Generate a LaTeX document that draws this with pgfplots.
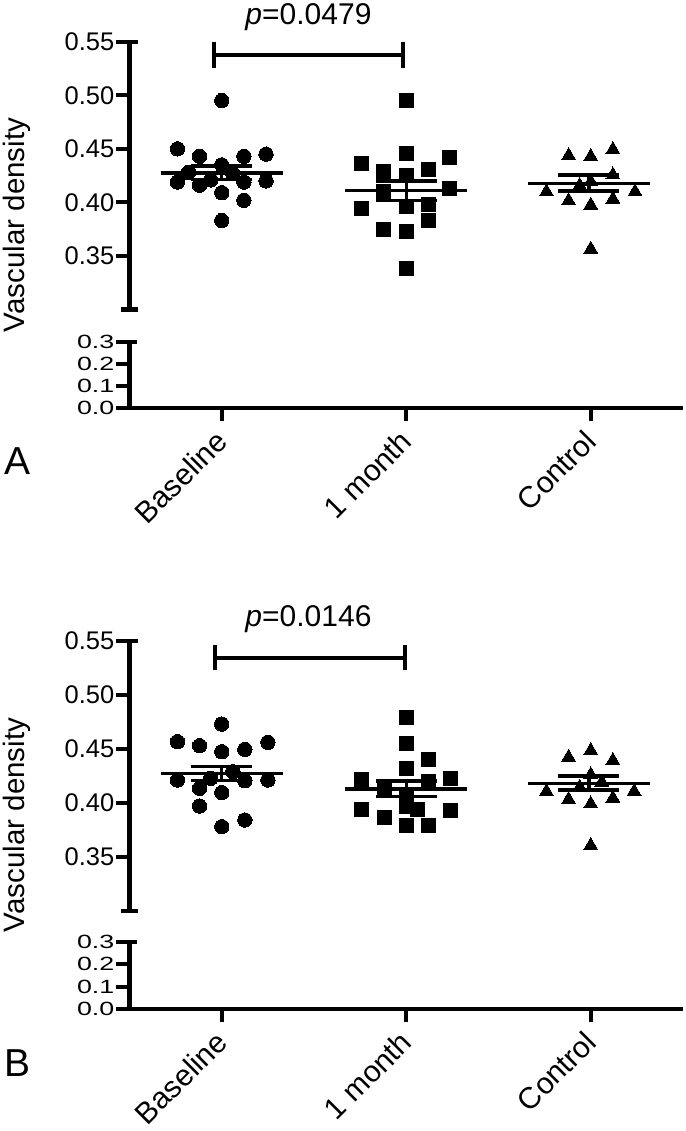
\documentclass[border=0pt]{standalone}
\usepackage{fontspec}
\setmainfont{Liberation Sans}
\usepackage{graphicx}
\usepackage{pgfplots}
\pgfplotsset{compat=1.18}

\pgfplotsset{
  vd/.style={
    scale only axis, width=553.5pt, xmin=-0.5, xmax=2.5, clip=false,
    major tick length=13pt, tick align=outside,
    every tick/.style={line width=4.2pt, black},
    major tick style={line width=4.2pt, black},
    tick label style={font=\fontsize{25.5}{25.5}\selectfont, inner sep=2pt},
  },
  upper/.style={vd, axis x line=none, axis y line*=left,
    axis line style={line width=4.2pt, black},
    ymin=0.30, ymax=0.55, ytick={0.35,0.40,0.45,0.50,0.55},
    yticklabels={0.35,0.40,0.45,0.50,0.55},
    extra y ticks={0.30,0.55}, extra y tick labels={},
    extra y tick style={tick align=center, major tick length=17pt, line width=4.2pt}},
  lower/.style={vd, axis x line*=bottom, axis y line*=left,
    axis line style={line width=4.2pt, black},
    ymin=0, ymax=0.3, ytick={0,0.1,0.2,0.3},
    yticklabels={\scalebox{1.05}[0.75]{0.0},\scalebox{1.05}[0.75]{0.1},\scalebox{1.05}[0.75]{0.2},\scalebox{1.05}[0.75]{0.3}},
    extra y ticks={0.3}, extra y tick labels={},
    extra y tick style={tick align=center, major tick length=15pt, line width=4.2pt},
    xtick={0,1,2}, xticklabels={Baseline,1 month,Control},
    xticklabel style={xshift=-8pt, yshift=-7pt, rotate=45, anchor=north east,
      font=\fontsize{30}{30}\selectfont, inner sep=0pt}},
  circ/.style={only marks, mark=*, mark size=7.2pt, mark options={fill=black,draw=black,line width=0pt}},
  sq/.style={only marks, mark=square*, mark size=7pt, mark options={fill=black,draw=black,line width=0pt}},
  tri/.style={only marks, mark=triangle*, mark size=8pt, mark options={fill=black,draw=black,line width=0pt}},
  ms/.style={line width=3.4pt, black, no marks},
  br/.style={line width=4pt, black, no marks},
}

\begin{document}
\begin{tikzpicture}
\useasboundingbox (0pt,0pt) rectangle (685pt,-1131pt);

% ---------------- Panel A ----------------
\begin{axis}[upper, at={(129.5pt,-309.5pt)}, anchor=south west, height=267.8pt]
  \addplot[circ] coordinates {
    (0,0.495) (-0.24,0.450) (-0.12,0.443) (0.24,0.445) (0.12,0.443) (0,0.435)
    (-0.18,0.428) (0.06,0.427) (-0.24,0.419) (-0.12,0.416) (-0.06,0.421)
    (0.12,0.419) (0.24,0.420) (0,0.409) (0.12,0.402) (0,0.383)};
  \addplot[sq] coordinates {
    (1,0.495) (0.755,0.436) (0.874,0.4285) (1,0.425) (1.118,0.431) (1.232,0.4416)
    (1,0.4457) (0.874,0.410) (1.232,0.413) (0.755,0.394) (1,0.396) (1.118,0.398)
    (1.118,0.383) (0.874,0.375) (1,0.373) (1,0.338)};
  \addplot[tri] coordinates {
    (1.88,0.4437) (2,0.4428) (2.12,0.4493) (2.12,0.4256) (2,0.4194) (1.94,0.4157)
    (1.76,0.410) (2.24,0.410) (1.88,0.4016) (2,0.3975) (2.12,0.4031) (2,0.3564)};
  % mean and SEM
  \addplot[ms] coordinates {(-0.33,0.4276) (0.33,0.4276)};
  \addplot[ms] coordinates {(-0.165,0.4338) (0.165,0.4338)};
  \addplot[ms] coordinates {(-0.165,0.4214) (0.165,0.4214)};
  \addplot[ms] coordinates {(0,0.4214) (0,0.4338)};
  \addplot[ms] coordinates {(0.67,0.4111) (1.33,0.4111)};
  \addplot[ms] coordinates {(0.835,0.4201) (1.165,0.4201)};
  \addplot[ms] coordinates {(0.835,0.4020) (1.165,0.4020)};
  \addplot[ms] coordinates {(1,0.4020) (1,0.4201)};
  \addplot[ms] coordinates {(1.66,0.4177) (2.32,0.4177)};
  \addplot[ms] coordinates {(1.825,0.4254) (2.155,0.4254)};
  \addplot[ms] coordinates {(1.825,0.4105) (2.155,0.4105)};
  \addplot[ms] coordinates {(1.99,0.4105) (1.99,0.4254)};
  % bracket
  \addplot[br] coordinates {(-0.042,0.5380) (0.982,0.5380)};
  \addplot[br] coordinates {(-0.042,0.5500) (-0.042,0.5257)};
  \addplot[br] coordinates {(0.982,0.5500) (0.982,0.5257)};
  \node[font=\fontsize{30}{30}\selectfont] at (axis cs:0.47,0.5725) {\textit{p}=0.0479};
  \draw[line width=4.2pt] (rel axis cs:0,0) -- (rel axis cs:0,1);
\end{axis}

\begin{axis}[lower, at={(129.5pt,-408pt)}, anchor=south west, height=66pt]
  \draw[line width=4.2pt] (rel axis cs:0,0) -- (rel axis cs:0,1);
  \draw[line width=4.2pt] (rel axis cs:0,0) -- (rel axis cs:1,0);
\end{axis}

\node[rotate=90, font=\fontsize{29.5}{29.5}\selectfont] at (17pt,-225pt) {Vascular density};
\node[font=\fontsize{39}{39}\selectfont] at (18pt,-461pt) {A};

% ---------------- Panel B ----------------
\begin{axis}[upper, at={(129.5pt,-911pt)}, anchor=south west, height=270pt]
  \addplot[circ] coordinates {
    (0,0.4731) (-0.24,0.4568) (-0.12,0.4531) (0.25,0.4562) (0.125,0.4497) (0,0.4475)
    (-0.24,0.4213) (-0.12,0.4136) (-0.06,0.4229) (0.06,0.4290) (0.125,0.4206)
    (0.25,0.4213) (0,0.4096) (-0.12,0.3972) (0.125,0.3843) (0,0.3781)};
  \addplot[sq] coordinates {
    (1,0.4793) (1,0.4553) (1.12,0.4407) (1,0.4315) (0.76,0.4220) (1.24,0.4229)
    (1.12,0.4197) (0.88,0.4136) (1,0.4058) (0.76,0.3942) (0.88,0.3868) (1,0.3966)
    (1.06,0.3942) (1,0.3796) (1.12,0.3796) (1.24,0.3929)};
  \addplot[tri] coordinates {
    (1.88,0.4424) (2,0.4486) (2.12,0.4394) (2,0.4261) (2.06,0.4193) (1.94,0.4147)
    (1.76,0.4107) (2.235,0.4107) (1.88,0.4033) (2,0.3992) (2.12,0.4045) (2,0.3607)};
  \addplot[ms] coordinates {(-0.33,0.4275) (0.33,0.4275)};
  \addplot[ms] coordinates {(-0.165,0.4336) (0.165,0.4336)};
  \addplot[ms] coordinates {(-0.165,0.4207) (0.165,0.4207)};
  \addplot[ms] coordinates {(0,0.4207) (0,0.4336)};
  \addplot[ms] coordinates {(0.67,0.4130) (1.33,0.4130)};
  \addplot[ms] coordinates {(0.835,0.4204) (1.165,0.4204)};
  \addplot[ms] coordinates {(0.835,0.4058) (1.165,0.4058)};
  \addplot[ms] coordinates {(1,0.4058) (1,0.4204)};
  \addplot[ms] coordinates {(1.66,0.4182) (2.32,0.4182)};
  \addplot[ms] coordinates {(1.825,0.4250) (2.155,0.4250)};
  \addplot[ms] coordinates {(1.825,0.4120) (2.155,0.4120)};
  \addplot[ms] coordinates {(1.99,0.4120) (1.99,0.4250)};
  \addplot[br] coordinates {(-0.037,0.5343) (0.993,0.5343)};
  \addplot[br] coordinates {(-0.037,0.5463) (-0.037,0.5231)};
  \addplot[br] coordinates {(0.993,0.5463) (0.993,0.5231)};
  \node[font=\fontsize{30}{30}\selectfont] at (axis cs:0.47,0.5705) {\textit{p}=0.0146};
  \draw[line width=4.2pt] (rel axis cs:0,0) -- (rel axis cs:0,1);
\end{axis}

\begin{axis}[lower, at={(129.5pt,-1009pt)}, anchor=south west, height=67pt]
  \draw[line width=4.2pt] (rel axis cs:0,0) -- (rel axis cs:0,1);
  \draw[line width=4.2pt] (rel axis cs:0,0) -- (rel axis cs:1,0);
\end{axis}

\node[rotate=90, font=\fontsize{29.5}{29.5}\selectfont] at (17pt,-825pt) {Vascular density};
\node[font=\fontsize{39}{39}\selectfont] at (18pt,-1063pt) {B};
\end{tikzpicture}
\end{document}
